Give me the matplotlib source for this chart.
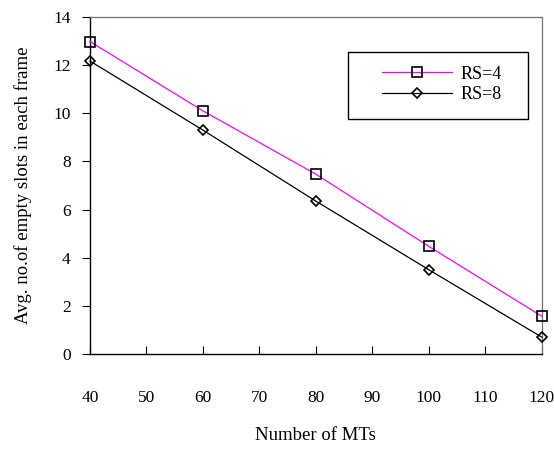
import matplotlib
matplotlib.use('Agg')
from matplotlib import pyplot as plt
from matplotlib.patches import Rectangle

# data
mts = [40, 60, 80, 100, 120]
rs4 = [12.98, 10.1, 7.47, 4.47, 1.57]
rs8 = [12.17, 9.3, 6.35, 3.5, 0.7]
xticks = [40, 50, 60, 70, 80, 90, 100, 110, 120]
yticks = [0, 2, 4, 6, 8, 10, 12, 14]

plt.rcParams['font.family'] = ['Liberation Serif', 'DejaVu Serif']

fig = plt.figure(figsize=(5.54, 4.53), dpi=100)
ax = fig.add_axes([0.1625, 0.2185, 0.8155, 0.744])

ax.plot(mts, rs4, '-', color='magenta', lw=0.9, marker='s', ms=7,
        mfc='none', mec='black', mew=1.2, label='RS=4', clip_on=False, zorder=3)
ax.plot(mts, rs8, '-', color='black', lw=0.9, marker='D', ms=5,
        mfc='none', mec='black', mew=1.2, label='RS=8', clip_on=False, zorder=3)

ax.set_xlim(40, 120)
ax.set_ylim(0, 14)
ax.set_xticks(xticks)
ax.set_yticks(yticks)
ax.tick_params(axis='x', direction='in', length=6, pad=26, labelsize=12.5)
ax.tick_params(axis='y', direction='out', length=6, pad=8, labelsize=12.5)
ax.tick_params(top=False, right=False)

for s in ['top', 'right']:
    ax.spines[s].set_color('0.45')
    ax.spines[s].set_linewidth(0.9)
for s in ['left', 'bottom']:
    ax.spines[s].set_color('black')
    ax.spines[s].set_linewidth(1.0)

ax.set_xlabel('Number of MTs', fontsize=13.5, labelpad=15)
ax.set_ylabel('Avg. no.of empty slots in each frame', fontsize=13.5, labelpad=15)

# legend box drawn by hand so the padding matches (wider on the right)
ax.add_patch(Rectangle((0.571, 0.697), 0.398, 0.199, transform=ax.transAxes,
                       fill=True, facecolor='white', edgecolor='black', lw=1.0,
                       zorder=4))
leg = ax.legend(loc='center left', bbox_to_anchor=(0.646, 0.8),
                fontsize=13, frameon=False, handlelength=3.9, borderpad=0,
                labelspacing=0.2, handletextpad=0.45, borderaxespad=0)
leg.set_zorder(5)

fig.savefig('out.png', dpi=100)
